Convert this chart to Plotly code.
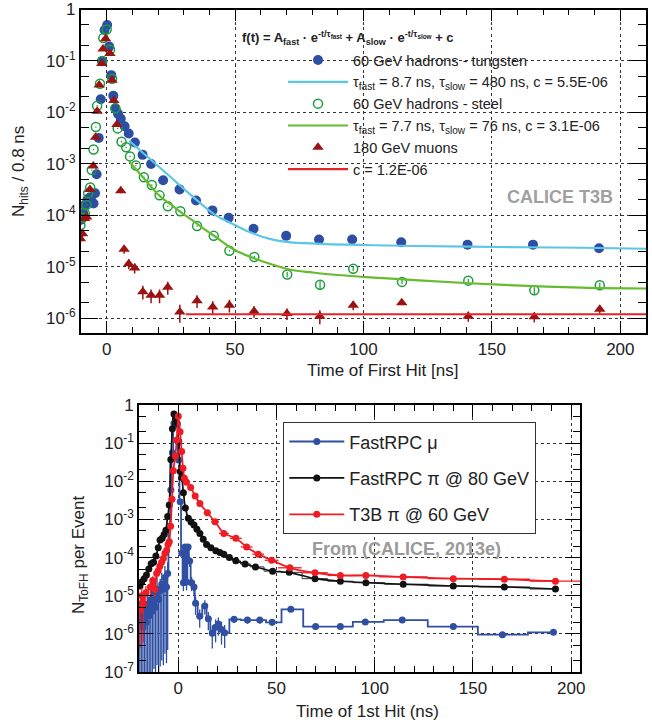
import plotly.graph_objects as go

# ---------------- top panel data ----------------
W_x = [-9.9, -9.1, -8.3, -7.5, -6.7, -5.9, -5.1, -4.5, -3.9, -3.1, -2.3, -1.6, -0.8, 0.2, 1.0, 1.8, 2.6, 3.4, 4.4, 5.5,
       7.0, 8.6, 11.0, 14.0, 17.3, 22.0, 28.4, 34.8, 41.2, 47.5, 57.2, 69.9, 82.7, 95.6, 114.7, 140.5, 166.0, 191.7]
W_y = [8.2e-5, 1.1e-4, 1.6e-4, 2.0e-4, 2.2e-4, 1.9e-4, 1.7e-4, 2.7e-4, 6.3e-4, 3.2e-3, 0.018, 0.10, 0.40, 0.50, 0.19, 0.053, 0.021, 0.012, 0.0095, 0.0075,
       0.0054, 0.0039, 0.0026, 0.0015, 1.0e-3, 4.8e-4, 3.2e-4, 1.95e-4, 1.25e-4, 9.0e-5, 5.5e-5, 4.0e-5, 3.4e-5, 3.4e-5, 3.0e-5, 2.7e-5, 2.7e-5, 2.3e-5]

S_x = [-10.2, -9.4, -8.5, -7.8, -7.2, -6.4, -5.8, -5.1, -4.2, -3.7, -2.6, -1.8, -1.3, 0.0, 1.3, 2.1, 3.4, 4.3, 5.8, 7.6,
       9.1, 11.4, 14.5, 17.6, 20.6, 23.8, 28.7, 35.2, 41.7, 47.8, 57.5, 70.3, 83.1, 96.0, 115.0, 140.8, 166.5, 192.0]
S_y = [6.4e-5, 9e-5, 1.1e-4, 1.6e-4, 2.7e-4, 3.5e-4, 7.6e-4, 1.9e-3, 5.2e-3, 0.0135, 0.036, 0.10, 0.28, 0.41, 0.166, 0.045, 0.012, 0.0049, 0.0027, 0.0021,
       0.0014, 9.3e-4, 5.5e-4, 3.9e-4, 2.45e-4, 1.5e-4, 1.2e-4, 6.2e-5, 4.0e-5, 2.06e-5, 1.55e-5, 7.1e-6, 4.5e-6, 9.2e-6, 5.1e-6, 5.4e-6, 3.5e-6, 4.4e-6]
S_rel = [0.03] * 30 + [0.06, 0.12, 0.2, 0.1, 0.1, 0.08, 0.15, 0.1]

M_x = [-10.2, -9.4, -8.6, -7.8, -6.5, -5.2, -4.3, -3.7, -2.9, -1.9, -1.4, -0.4, 1.3, 2.1, 2.8, 4.0, 5.5, 6.8,
       8.6, 10.9, 14.1, 17.3, 20.6, 23.8, 28.5, 35.2, 41.3, 47.8, 57.4, 70.2, 83.0, 96.0, 114.9, 140.8, 166.5, 192.0]
M_y = [3.5e-5, 4.4e-5, 8.7e-5, 9.3e-5, 3.2e-4, 9.1e-4, 3.3e-3, 0.0105, 0.034, 0.089, 0.17, 0.27, 0.14, 0.042, 0.017, 0.0058, 3.0e-4, 2.2e-5,
       1.15e-5, 9.5e-6, 3.3e-6, 2.8e-6, 2.8e-6, 4.0e-6, 1.33e-6, 2.2e-6, 1.66e-6, 1.8e-6, 1.37e-6, 1.24e-6, 1.1e-6, 1.8e-6, 2.0e-6, 1.1e-6, 1.07e-6, 1.5e-6]
M_rel = [0.15, 0.15, 0.12, 0.12, 0.08, 0.05, 0.03, 0.02, 0.02, 0.02, 0.02, 0.02, 0.02, 0.02, 0.02, 0.03, 0.1, 0.18,
         0.22, 0.22, 0.3, 0.3, 0.3, 0.28, 0.38, 0.28, 0.3, 0.28, 0.25, 0.25, 0.3, 0.2, 0.1, 0.22, 0.22, 0.17]

FitW_x = [8.8, 12, 16, 20, 25, 30, 35, 42.5, 49, 55.4, 63.5, 71.6, 80, 87.8, 104, 120, 152.7, 185, 210]
FitW_y = [2.8e-3, 2.04e-3, 1.36e-3, 9.1e-4, 5.5e-4, 3.3e-4, 2.0e-4, 1.0e-4, 6.9e-5, 4.8e-5, 3.5e-5, 3.0e-5, 2.85e-5, 2.74e-5, 2.63e-5, 2.54e-5, 2.43e-5, 2.35e-5, 2.25e-5]
FitS_x = [8.8, 12, 16, 19.8, 22, 26.3, 30, 34.4, 38, 42.5, 49, 55.4, 63.5, 71.6, 80, 87.8, 104, 120, 152.7, 185, 210]
FitS_y = [1.12e-3, 7.3e-4, 4.3e-4, 2.6e-4, 2.1e-4, 1.45e-4, 1.05e-4, 7.4e-5, 5.4e-5, 3.8e-5, 2.25e-5, 1.6e-5, 1.15e-5, 8.8e-6, 7.8e-6, 7.1e-6, 6.2e-6, 5.5e-6, 4.5e-6, 3.95e-6, 3.8e-6]
FitM_x = [30.8, 210]
FitM_y = [1.2e-6, 1.2e-6]

top_labels = ["60 GeV hadrons - tungsten", "τ<sub>fast</sub> = 8.7 ns, τ<sub>slow</sub> = 480 ns, c = 5.5E-06",
              "60 GeV hadrons - steel", "τ<sub>fast</sub> = 7.7 ns, τ<sub>slow</sub> = 76 ns, c = 3.1E-06",
              "180 GeV muons", "c = 1.2E-06"]

# ---------------- bottom panel data ----------------
B_x = [-19.6, -18.8, -18.0, -17.2, -16.4, -15.6, -14.8, -14.0, -13.2, -12.4, -11.6, -10.8, -10.0, -9.2, -8.4, -7.6, -6.8, -6.0, -5.4, -4.6,
       -3.8, -3.0, -2.2, -1.4, -0.6, 0.2, 1.0, 1.8, 2.6, 3.4, 4.2, 5.0, 5.8, 6.8, 8.0, 8.8, 10.9, 13.5, 15.3, 17.3,
       19.0, 20.4, 22.0, 23.6, 28.4, 35.2, 41.5, 47.8, 57.3, 69.9, 82.5, 95.2, 114.0, 140.0, 165.0, 191.0]
B_y = [2e-6, 6e-6, 1.5e-6, 4e-6, 2e-6, 6e-6, 3e-6, 8e-6, 4e-6, 1.2e-5, 5e-6, 1.5e-5, 8e-6, 1.4e-5, 2e-5, 1.5e-5, 3e-5, 1.7e-5, 3.8e-5, 6.6e-4,
       5.9e-3, 0.056, 0.33, 0.45, 0.3, 0.036, 0.0029, 1.3e-4, 2.2e-5, 1.9e-4, 2.3e-5, 1.9e-4, 8.1e-5, 2.2e-5, 1.7e-5, 6.3e-6, 2.9e-6, 5.4e-6, 2.5e-6, 1.04e-6,
       1.5e-6, 1.8e-6, 1.3e-6, 1.07e-6, 2.4e-6, 2.3e-6, 2.3e-6, 2.0e-6, 4.4e-6, 1.55e-6, 1.55e-6, 2.05e-6, 2.3e-6, 1.55e-6, 9.5e-7, 1.1e-6]
B_rel = [0.99] * 19 + [0.1] * 9 + [0.4, 0.2, 0.4, 0.2, 0.3, 0.4, 0.4, 0.5, 0.5, 0.4, 0.5, 0.6,
                                   0.6, 0.5, 0.6, 0.6, 0.2, 0.2, 0.2, 0.2, 0.12, 0.15, 0.15, 0.1, 0.08, 0.1, 0.1, 0.1]

K_x = [-19.5, -18.6, -17.4, -16.2, -15.0, -13.8, -12.6, -11.4, -10.2, -9.3, -8.2, -7.2, -6.3, -5.4, -4.6, -3.8, -3.0, -2.2, -1.4, -0.6,
       0.2, 1.0, 1.8, 2.6, 3.6, 5.1, 6.5, 8.0, 9.5, 11.0, 12.7, 14.4, 16.6, 19.1, 21.2, 23.2, 26.0, 29.3, 34.0, 39.3,
       48.0, 56.5, 69.6, 82.5, 95.5, 114.5, 140.0, 166.0, 192.0]
K_y = [1.8e-5, 2.3e-5, 2.8e-5, 3.5e-5, 5e-5, 6.9e-5, 7.5e-5, 1.1e-4, 1.8e-4, 2.9e-4, 3.2e-4, 4e-4, 5.2e-4, 1.2e-3, 2.4e-3, 0.037, 0.24, 0.58, 0.45, 0.33,
       0.11, 0.018, 0.0126, 0.005, 2e-3, 1.07e-3, 8.5e-4, 7.1e-4, 5.5e-4, 4.3e-4, 3e-4, 2.2e-4, 1.8e-4, 1.5e-4, 1.35e-4, 1.23e-4, 1.0e-4, 8.2e-5, 6.8e-5, 5.7e-5,
       4.4e-5, 4.1e-5, 2.8e-5, 2.4e-5, 2.2e-5, 2.0e-5, 1.8e-5, 1.7e-5, 1.5e-5]

R_x = [-19.5, -18.6, -17.8, -16.5, -14.2, -13.0, -11.9, -11.0, -10.2, -9.4, -8.5, -7.6, -6.8, -5.9, -5.2, -4.6, -3.9, -3.2, -2.5, -1.5,
       -0.8, 0.0, 0.9, 1.7, 2.4, 3.1, 4.2, 6.3, 8.6, 11.0, 14.8, 18.7, 23.2, 29.3, 34.8, 40.7, 47.5, 56.8, 69.6, 82.5,
       95.5, 114.5, 140.0, 166.0, 192.0]
R_y = [4.2e-6, 1.0e-5, 6e-6, 1.2e-5, 1.7e-5, 2.5e-5, 1.5e-5, 3.8e-5, 4.5e-5, 5.9e-5, 7.5e-5, 9.5e-5, 1.3e-4, 1.55e-4, 2.2e-4, 2.6e-4, 6.6e-4, 3.4e-3, 0.019, 0.046,
       0.12, 0.51, 0.2, 0.06, 0.022, 0.012, 0.0095, 0.0069, 0.0041, 0.0026, 0.0015, 8.7e-4, 4.3e-4, 3.2e-4, 1.9e-4, 1.23e-4, 8.5e-5, 5.4e-5, 4.0e-5, 3.4e-5,
       3.4e-5, 3.1e-5, 2.8e-5, 2.7e-5, 2.4e-5]
R_rel = [0.9, 0.6, 0.9, 0.5, 0.4, 0.3, 0.4, 0.25, 0.2, 0.15] + [0.08] * 35
R_binhalf = [0.4] * 28 + [1.2, 1.2, 1.9, 2.0, 2.5, 3.0, 3.0, 3.0, 3.5, 6.0, 6.5, 6.5, 6.5, 12.5, 13.0, 13.0, 13.0]

bottom_labels = ["FastRPC μ", "FastRPC π @ 80 GeV", "T3B π @ 60 GeV"]

# ---------------- colours ----------------
C_W, C_S, C_M = "#2c4ea3", "#1e9c3e", "#9b1212"
C_FW, C_FS, C_FM = "#5cc6e6", "#66bb2e", "#e5232a"
C_B, C_K, C_R = "#2f4fa3", "#111111", "#ee1c24"

FONT = "Liberation Sans, Arial, Helvetica, sans-serif"

fig = go.Figure()

def err(vals, rel):
    return [v * r for v, r in zip(vals, rel)]

# top panel traces (legend order)
fig.add_trace(go.Scatter(x=W_x, y=W_y, mode="markers", name=top_labels[0], legend="legend",
                         marker=dict(color=C_W, size=10, symbol="circle"), xaxis="x", yaxis="y"))
fig.add_trace(go.Scatter(x=FitW_x, y=FitW_y, mode="lines", name=top_labels[1], legend="legend",
                         line=dict(color=C_FW, width=2.2, shape="spline"), xaxis="x", yaxis="y"))
fig.add_trace(go.Scatter(x=S_x, y=S_y, mode="markers", name=top_labels[2], legend="legend",
                         marker=dict(color=C_S, size=9, symbol="circle-open", line=dict(color=C_S, width=1.5)),
                         error_y=dict(type="data", array=err(S_y, S_rel), color=C_S, thickness=1.2, width=0),
                         xaxis="x", yaxis="y"))
fig.add_trace(go.Scatter(x=FitS_x, y=FitS_y, mode="lines", name=top_labels[3], legend="legend",
                         line=dict(color=C_FS, width=2.2, shape="spline"), xaxis="x", yaxis="y"))
fig.add_trace(go.Scatter(x=M_x, y=M_y, mode="markers", name=top_labels[4], legend="legend",
                         marker=dict(color=C_M, size=10, symbol="triangle-up"),
                         error_y=dict(type="data", array=err(M_y, M_rel), color=C_M, thickness=1.5, width=0),
                         xaxis="x", yaxis="y"))
fig.add_trace(go.Scatter(x=FitM_x, y=FitM_y, mode="lines", name=top_labels[5], legend="legend",
                         line=dict(color=C_FM, width=2.2), xaxis="x", yaxis="y"))

# bottom panel traces
fig.add_trace(go.Scatter(x=K_x, y=K_y, mode="lines", showlegend=False, hoverinfo="skip",
                         line=dict(color="#333", width=1.0, shape="hvh"), xaxis="x2", yaxis="y2"))
fig.add_trace(go.Scatter(x=B_x, y=B_y, mode="lines+markers", name=bottom_labels[0], legend="legend2", legendgroup="b",
                         line=dict(color=C_B, width=1.8, shape="hvh"), marker=dict(color=C_B, size=7),
                         error_y=dict(type="data", array=err(B_y, B_rel), color=C_B, thickness=1.3, width=0),
                         xaxis="x2", yaxis="y2"))
fig.add_trace(go.Scatter(x=K_x, y=K_y, mode="lines+markers", name=bottom_labels[1], legend="legend2", legendgroup="k",
                         line=dict(color=C_K, width=1.6, shape="spline", smoothing=0.5), marker=dict(color=C_K, size=7),
                         xaxis="x2", yaxis="y2"))
fig.add_trace(go.Scatter(x=R_x, y=R_y, mode="lines+markers", name=bottom_labels[2], legend="legend2", legendgroup="r",
                         line=dict(color=C_R, width=1.8, shape="spline", smoothing=0.6), marker=dict(color=C_R, size=7),
                         error_y=dict(type="data", array=err(R_y, R_rel), color=C_R, thickness=1.3, width=0),
                         error_x=dict(type="data", array=R_binhalf, color=C_R, thickness=1.3, width=0),
                         xaxis="x2", yaxis="y2"))

W, H = 652, 723
def px_x(a, b):
    return [a / W, b / W]
def px_y(top, bot):
    return [(H - bot) / H, (H - top) / H]

pow_vals_top = [1e-6, 1e-5, 1e-4, 1e-3, 1e-2, 1e-1, 1]
pow_text_top = ["10<sup>-6</sup>", "10<sup>-5</sup>", "10<sup>-4</sup>", "10<sup>-3</sup>", "10<sup>-2</sup>", "10<sup>-1</sup>", "1"]
pow_vals_bot = [1e-7] + pow_vals_top
pow_text_bot = ["10<sup>-7</sup>"] + pow_text_top

axis_common = dict(showline=True, linecolor="black", linewidth=1.6, mirror="allticks", ticks="inside",
                   tickcolor="black", tickfont=dict(family=FONT, size=17, color="#222"), automargin=False,
                   showgrid=True, gridcolor="#333", griddash="dot", gridwidth=1, zeroline=False)

fig.update_layout(
    width=W, height=H, plot_bgcolor="white", paper_bgcolor="white",
    margin=dict(l=0, r=0, t=0, b=0, autoexpand=False), showlegend=True,
    font=dict(family=FONT, color="#222"),
    xaxis=dict(domain=px_x(80.7, 646), range=[-10.1, 210], tickvals=[0, 50, 100, 150, 200], ticklen=12,
               minor=dict(dtick=10, ticks="inside", ticklen=6, tickcolor="black", showgrid=False),
               anchor="y", **axis_common),
    yaxis=dict(domain=px_y(9.5, 333), type="log", range=[-6.285, 0.0], tickvals=pow_vals_top, ticktext=pow_text_top,
               ticklen=17, minor=dict(ticks="inside", ticklen=8, tickcolor="black", showgrid=False),
               anchor="x", **axis_common),
    xaxis2=dict(domain=px_x(139, 580), range=[-20.0, 204.5], tickvals=[0, 50, 100, 150, 200], ticklen=12,
                minor=dict(dtick=10, ticks="inside", ticklen=6, tickcolor="black", showgrid=False),
                anchor="y2", **axis_common),
    yaxis2=dict(domain=px_y(405, 672), type="log", range=[-7, 0], tickvals=pow_vals_bot, ticktext=pow_text_bot,
                ticklen=14, minor=dict(ticks="inside", ticklen=7, tickcolor="black", showgrid=False),
                anchor="x2", **axis_common),
    legend=dict(x=283 / W, y=(H - 44) / H, xanchor="left", yanchor="top", bgcolor="rgba(0,0,0,0)",
                font=dict(family=FONT, size=14.5, color="#222"), tracegroupgap=0, itemwidth=60),
    legend2=dict(x=283 / W, y=(H - 422) / H, xanchor="left", yanchor="top", bgcolor="white",
                 bordercolor="#333", borderwidth=1.3, font=dict(family=FONT, size=18, color="#222"),
                 tracegroupgap=10, itemwidth=55),
)

ann = [
    dict(text="<b>f(t) = A<sub>fast</sub> · e<sup>-t/τ<sub>fast</sub></sup> + A<sub>slow</sub> · e<sup>-t/τ<sub>slow</sub></sup> + c</b>",
         x=240 / W, y=(H - 38) / H, xanchor="left", yanchor="middle", font=dict(size=13, color="#222")),
    dict(text="<b>CALICE T3B</b>", x=615 / W, y=(H - 197) / H, xanchor="right", yanchor="middle",
         font=dict(size=18, color="#a0a0a0")),
    dict(text="<b>From (CALICE, 2013e)</b>", x=406 / W, y=(H - 549) / H, xanchor="center", yanchor="middle",
         font=dict(size=18, color="#9a9a9a")),
    dict(text="Time of First Hit [ns]", x=460 / W, y=(H - 371) / H, xanchor="right", yanchor="middle",
         font=dict(size=17, color="#222")),
    dict(text="N<sub>hits</sub> / 0.8 ns", x=20 / W, y=(H - 172) / H, xanchor="center", yanchor="middle",
         textangle=-90, font=dict(size=17, color="#222")),
    dict(text="Time of 1st Hit (ns)", x=367 / W, y=(H - 711) / H, xanchor="center", yanchor="middle",
         font=dict(size=17, color="#222")),
    dict(text="N<sub>ToFH</sub> per Event", x=80 / W, y=(H - 555) / H, xanchor="center", yanchor="middle",
         textangle=-90, font=dict(size=17, color="#222")),
]
for a in ann:
    a.update(xref="paper", yref="paper", showarrow=False, font=dict(family=FONT, **a["font"]))
fig.update_layout(annotations=ann)

fig.write_html("out.html", config={"displayModeBar": False},
               post_script="document.body.style.margin='0px';document.body.style.overflow='hidden';")
